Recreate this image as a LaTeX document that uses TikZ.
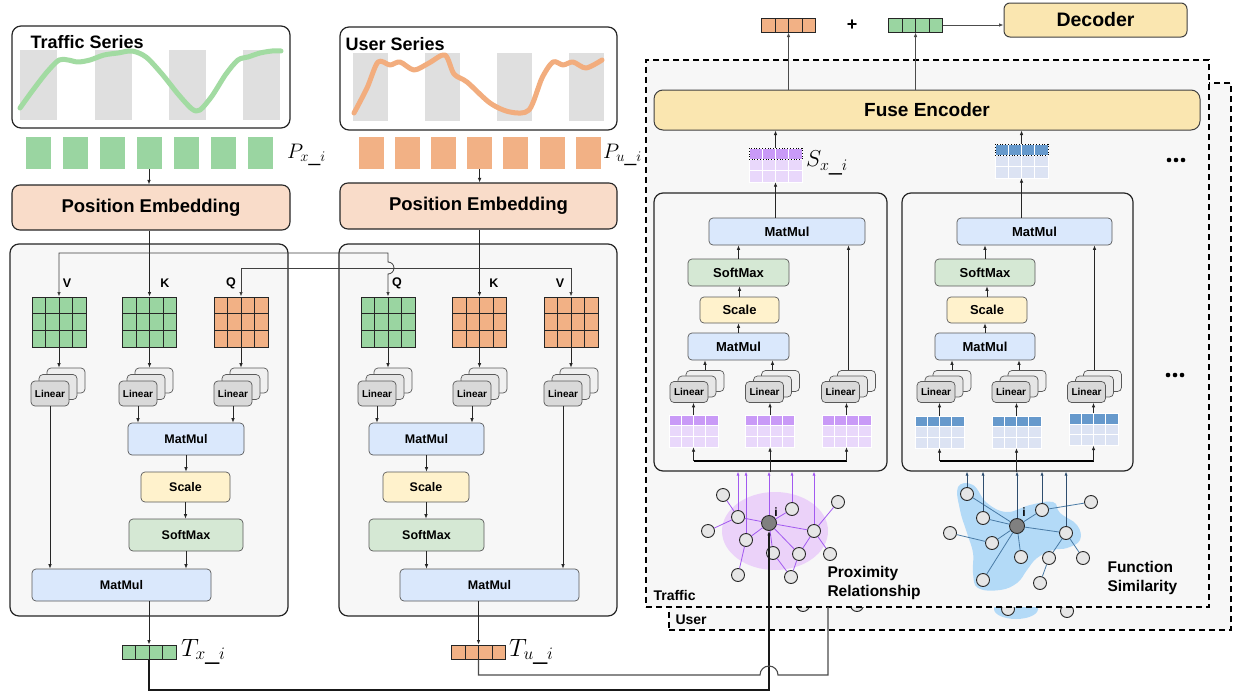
\documentclass[tikz,border=0pt]{standalone}
\usepackage{fix-cm}
\usepackage{fontspec}
\setmainfont{Liberation Sans}
\setsansfont{Liberation Sans}
\usetikzlibrary{arrows.meta,calc}
\definecolor{gfill}{HTML}{9AD5A1}
\definecolor{ofill}{HTML}{F2B185}
\definecolor{gline}{HTML}{A2DBA2}
\definecolor{oline}{HTML}{F2AD7E}
\definecolor{barg}{HTML}{DFDFDF}
\definecolor{pef}{HTML}{F9DCC9}
\definecolor{panelc}{HTML}{F7F7F7}
\definecolor{mmc}{HTML}{DAE8FC}
\definecolor{scc}{HTML}{FFF2CC}
\definecolor{smc}{HTML}{D5E8D4}
\definecolor{linf}{HTML}{D9D9D9}
\definecolor{linm}{HTML}{E6E6E6}
\definecolor{linb}{HTML}{F0F0F0}
\definecolor{fuse}{HTML}{FAE6B0}
\definecolor{pdark}{HTML}{C99AF7}
\definecolor{plight}{HTML}{E9D8FB}
\definecolor{bdark}{HTML}{6699CC}
\definecolor{blight}{HTML}{DCE3F3}
\definecolor{pline}{HTML}{A259F0}
\definecolor{pell}{HTML}{EBD2F9}
\definecolor{bblob}{HTML}{B3DAF7}
\definecolor{bline}{HTML}{4A7BA6}
\definecolor{barrc}{HTML}{2E4D6E}
\definecolor{gnodec}{HTML}{E6E6E6}

\newcommand\qgrid[4]{%
 \node[inner sep=0, minimum width=54, minimum height=50, fill=#4, draw=black!85, line width=1pt] (#1) at (#2,#3) {};
 \begin{scope}[shift={(#2,#3)}]
 \foreach \xx in {-13.5,0,13.5} \draw[line width=.9pt, black!85] (\xx,-25) -- (\xx,25);
 \foreach \yy in {-8.33,8.33} \draw[line width=.9pt, black!85] (-27,\yy) -- (27,\yy);
 \end{scope}}
\newcommand\vbar[4]{%
 \node[draw=black!85, line width=1pt, fill=#4, minimum width=54, minimum height=14, inner sep=0] (#1) at (#2,#3) {};
 \foreach \xx in {-13.5,0,13.5} \draw[line width=.9pt, black!85] ($(#1.center)+(\xx,-7)$) -- ($(#1.center)+(\xx,7)$);}
\newcommand\linst[8]{%
 \node[rb, fill=linb, minimum width=#4, minimum height=#5] (#1b) at ($(#2,#3)+(2*#6,-2*#7)$) {};
 \node[rb, fill=linm, minimum width=#4, minimum height=#5] (#1m) at ($(#2,#3)+(#6,-#7)$) {};
 \node[rb, fill=linf, minimum width=#4, minimum height=#5, fs=#8] (#1) at (#2,#3) {Linear};}
\newcommand\cgrid[8]{%
 \node[inner sep=0, minimum width=#6, minimum height=#7] (#1) at (#2,#3) {};
 \begin{scope}[shift={(#2,#3)}]
 \pgfmathsetmacro\cw{#6/4}\pgfmathsetmacro\ch{#7/3}\pgfmathsetmacro\hx{#6/2}\pgfmathsetmacro\hy{#7/2}
 \foreach \c in {0,...,3}{
   \path[fill=#4,draw=white,line width=1pt] (-\hx+\cw*\c,-\hy) rectangle ++(\cw,\ch);
   \foreach \r in {1,2} \path[fill=#5,draw=white,line width=1pt] (-\hx+\cw*\c,-\hy+\ch*\r) rectangle ++(\cw,\ch);}
 #8
 \end{scope}}

\begin{document}
\begin{tikzpicture}[x=1pt,y=-1pt,
  >={Latex[length=4.5pt,width=3.6pt]},
  fs/.style={font=\bfseries\fontsize{#1}{#1}\selectfont},
  ml/.style={font=\fontsize{#1}{#1}\selectfont, inner sep=0, anchor=west},
  ar/.style={->, line width=0.8pt, draw=black!85},
  ln/.style={line width=0.8pt, draw=black!85},
  rb/.style={rounded corners=4pt, draw=black!65, line width=0.7pt, inner sep=0pt, align=center},
  bxmm/.style={rb, fill=mmc},
  bxsc/.style={rb, fill=scc},
  bxsm/.style={rb, fill=smc},
  panel/.style={rounded corners=9pt, draw=black!85, line width=1.2pt, fill=panelc, inner sep=0},
  sbox/.style={rounded corners=9pt, draw=black!85, line width=1.2pt, fill=white, inner sep=0},
  tok/.style={inner sep=0, minimum width=25, minimum height=32},
  gn/.style={circle, draw=black!85, fill=gnodec, line width=0.9pt, minimum size=13, inner sep=0},
  gc/.style={gn, fill=black!50, minimum size=15},
  dbox/.style={draw=black, line width=1.8pt, dash pattern=on 6pt off 4pt, fill=panelc, inner sep=0},
  pedge/.style={pline, line width=0.8pt},
  bedge/.style={bline, line width=0.8pt},
  parr/.style={->, >={Latex[length=4pt,width=3.2pt]}, draw=pline, line width=0.8pt},
  barr/.style={->, >={Latex[length=4pt,width=3.2pt]}, draw=barrc, line width=0.8pt},
]
\useasboundingbox[fill=white] (0,0) rectangle (1233,696);

% ---------- series ----------
\node[sbox, minimum width=278, minimum height=102] (TS) at (151,77) {};
\foreach \bx in {20,95,169,243} \fill[barg] (\bx,50) rectangle ++(37,70);
\draw[gline, line width=5pt, line cap=round, line join=round] plot[smooth, tension=0.5] coordinates {(20,108) (33,90) (47,72) (59,60) (68,60) (78,62) (90,60) (104,55) (118,53) (132,51) (146,57) (162,74) (178,94) (192,109) (200,110) (212,96) (226,74) (238,60) (248,57) (260,53) (272,51) (281,51)};
\node[fs=18, anchor=west] (tst) at (27,42) {Traffic Series};

\node[sbox, minimum width=277, minimum height=103] (US) at (478.5,78.5) {};
\foreach \bx in {353,425,497,569} \fill[barg] (\bx,53) rectangle ++(35,68);
\draw[oline, line width=5pt, line cap=round, line join=round] plot[smooth, tension=0.5] coordinates {(354,113) (367,88) (378,62) (390,65) (400,62) (414,70) (429,63) (445,55) (454,74) (467,82) (490,103) (510,112) (529,110) (542,78) (553,62) (563,65) (573,62) (586,68) (602,60)};
\node[fs=18, anchor=west] (ust) at (342,44) {User Series};

\foreach \i in {0,...,6} \node[tok, fill=gfill] (px\i) at (38+37*\i,153) {};
\foreach \i in {0,...,6} \node[tok, fill=ofill] (pu\i) at (371+36.2*\i,153) {};
\node[ml=21] (pxl) at (287,155) {$P_{x\_i}$};
\node[ml=21] (pul) at (603,155) {$P_{u\_i}$};

\node[rb, fill=pef, draw=black!85, line width=1.1pt, rounded corners=8pt, minimum width=278, minimum height=45, fs=18.5] (PEx) at (151,207.5) {Position Embedding};
\node[rb, fill=pef, draw=black!85, line width=1.1pt, rounded corners=8pt, minimum width=277, minimum height=46, fs=18.5] (PEu) at (478.5,206) {Position Embedding};
\draw[ar] (px3.south) -- (px3.south |- PEx.north);
\draw[ar] (pu3.south) -- (pu3.south |- PEu.north);

% ---------- attention panels ----------
\node[panel, minimum width=278, minimum height=372] (LP) at (149,430) {};
\node[panel, minimum width=278, minimum height=372] (MP) at (478,430) {};

\qgrid{Vx}{59}{322}{gfill}
\qgrid{Kx}{149.5}{322}{gfill}
\qgrid{Qx}{241}{322}{ofill}
\qgrid{Qm}{388}{322}{gfill}
\qgrid{Km}{479.5}{322}{ofill}
\qgrid{Vm}{571}{322}{ofill}
\node[fs=12.5] at (67,283) {V};
\node[fs=12.5] at (165,283) {K};
\node[fs=12.5] at (231,283) {Q};
\node[fs=12.5] at (397,283) {Q};
\node[fs=12.5] at (494,283) {K};
\node[fs=12.5] at (560,283) {V};

\linst{LVx}{50}{393.5}{38}{25}{8}{6.5}{10}
\linst{LKx}{138}{393.5}{38}{25}{8}{6.5}{10}
\linst{LQx}{233}{393.5}{38}{25}{8}{6.5}{10}
\linst{LQm}{377}{393.5}{38}{25}{8}{6.5}{10}
\linst{LKm}{472}{393.5}{38}{25}{8}{6.5}{10}
\linst{LVm}{563}{393.5}{38}{25}{8}{6.5}{10}

\node[bxmm, minimum width=116, minimum height=32, fs=12.5] (MMx) at (186,439) {MatMul};
\node[bxsc, minimum width=89, minimum height=30, fs=12.5] (SCx) at (185.5,487) {Scale};
\node[bxsm, minimum width=114, minimum height=32, fs=12.5] (SMx) at (186,535) {SoftMax};
\node[bxmm, minimum width=179, minimum height=32, fs=12.5] (MFx) at (121.5,585) {MatMul};
\node[bxmm, minimum width=115, minimum height=32, fs=12.5] (MMm) at (426.5,439) {MatMul};
\node[bxsc, minimum width=86, minimum height=30, fs=12.5] (SCm) at (426,487) {Scale};
\node[bxsm, minimum width=115, minimum height=32, fs=12.5] (SMm) at (426.5,535) {SoftMax};
\node[bxmm, minimum width=179, minimum height=32, fs=12.5] (MFm) at (489.5,585) {MatMul};

\vbar{Tx}{149}{652}{gfill}
\vbar{Tm}{478.5}{652}{ofill}
\node[ml=25] (txl) at (181,652) {$T_{x\_i}$};
\node[ml=25] (tul) at (509,652) {$T_{u\_i}$};

% internal arrows
\foreach \g/\l in {Vx/LVx,Kx/LKx,Qx/LQx,Qm/LQm,Km/LKm,Vm/LVm}
  \draw[ar] (\g.south) -- (\g.south |- \l b.north);
\foreach \l/\m in {LKx/MMx,LQx/MMx,LQm/MMm,LKm/MMm}
  \draw[ar] (\l.south) -- (\l.south |- \m.north);
\draw[ar] (LVx.south) -- (LVx.south |- MFx.north);
\draw[ar] (LVm.south) -- (LVm.south |- MFm.north);
\draw[ar] (MMx.south) -- (MMx.south |- SCx.north);
\draw[ar] (SCx.south) -- (SCx.south |- SMx.north);
\draw[ar] (SMx.south) -- (SMx.south |- MFx.north);
\draw[ar] (MMm.south) -- (MMm.south |- SCm.north);
\draw[ar] (SCm.south) -- (SCm.south |- SMm.north);
\draw[ar] (SMm.south) -- (SMm.south |- MFm.north);
\draw[ar] (Tx.north |- MFx.south) -- (Tx.north);
\draw[ar] (Tm.north |- MFm.south) -- (Tm.north);

% position embedding to K
\draw[ar] (Kx.north |- PEx.south) -- (Kx.north);
\draw[ar] (Km.north |- PEu.south) -- (Km.north);
% cross connections
\coordinate (c1) at (388,253);
\coordinate (c2) at (571,268);
\draw[ln, draw=black!75, <->] (Vx.north) |- (c1) -- (388,262) arc(-90:90:6) -- (Qm.north);
\draw[ln, draw=black!75, <->] (Qx.north) |- (c2) -- (Vm.north);

% ---------- right part ----------
\node[dbox, minimum width=562, minimum height=547] (UB) at (950,356.5) {};
\fill[bblob] (1016,609) ellipse (22 and 10);
\node[gn] (u1) at (803,605) {};
\node[gn] (u2) at (857,605) {};
\node[gn] (u3) at (1008,609) {};
\node[gn] (u4) at (1067,611) {};
\node[dbox, minimum width=563, minimum height=547] (TB) at (927.5,333.5) {};
\node[fs=14, anchor=west] (trl) at (650,595) {Traffic};
\node[fs=14, anchor=west] (usl) at (672,620) {User};

\node[rb, fill=fuse, draw=black!75, line width=1pt, rounded corners=9pt, minimum width=546, minimum height=40, fs=19] (FE) at (927,110) {Fuse Encoder};
\node[rb, fill=fuse, draw=black!75, line width=1pt, rounded corners=6pt, minimum width=183, minimum height=34, fs=19.5] (DEC) at (1095.5,20) {Decoder};
\vbar{OrV}{788.5}{25}{ofill}
\vbar{GrV}{915.5}{25}{gfill}
\node[fs=18] (plus) at (852,25) {+};
\draw[ar, draw=black!70] (OrV.south |- FE.north) -- (OrV.south);
\draw[ar, draw=black!70] (GrV.south |- FE.north) -- (GrV.south);
\draw[ar, draw=black!70] (GrV.east) -- (GrV.east -| DEC.west);

\node[panel, minimum width=233, minimum height=278] (RB1) at (770.5,332) {};
\node[panel, minimum width=231, minimum height=278] (RB2) at (1017.5,332) {};

% stacks above panels
\cgrid{S1}{775.5}{165}{pdark}{plight}{53}{34}{\draw[dotted, line width=0.8pt] (-\hx,-\hy) rectangle ++(53,\ch);}
\cgrid{S2}{1021.5}{161}{bdark}{blight}{53}{34}{\draw[dotted, line width=0.8pt] (-\hx,-\hy) rectangle ++(53,\ch);}
\node[ml=23] (sxl) at (806,163) {$S_{x\_i}$};
\foreach \d in {0,7,14} \fill (1169+\d,160) circle (2.3);
\foreach \d in {0,7,14} \fill (1168+\d,375) circle (2.3);

% panel 1
\node[bxmm, minimum width=156, minimum height=27, fs=13] (MT1) at (787,231.5) {MatMul};
\node[bxsm, minimum width=101, minimum height=27, fs=13] (SM1) at (738.5,272.5) {SoftMax};
\node[bxsc, minimum width=79, minimum height=26, fs=13] (SC1) at (739.5,310) {Scale};
\node[bxmm, minimum width=101, minimum height=27, fs=13] (MM1) at (738.5,346.5) {MatMul};
\linst{L11}{689}{392}{38}{21}{8}{5.5}{10}
\linst{L12}{764.5}{392}{38}{21}{8}{5.5}{10}
\linst{L13}{840.5}{392}{38}{21}{8}{5.5}{10}
\cgrid{G11}{693.5}{431}{pdark}{plight}{49}{32}{}
\cgrid{G12}{770}{431}{pdark}{plight}{49}{32}{}
\cgrid{G13}{846.5}{431}{pdark}{plight}{49}{32}{}

% panel 2
\node[bxmm, minimum width=155, minimum height=27, fs=13] (MT2) at (1034.5,231.5) {MatMul};
\node[bxsm, minimum width=100, minimum height=27, fs=13] (SM2) at (985,272.5) {SoftMax};
\node[bxsc, minimum width=80, minimum height=26, fs=13] (SC2) at (987,310) {Scale};
\node[bxmm, minimum width=100, minimum height=27, fs=13] (MM2) at (985,346.5) {MatMul};
\linst{L21}{936}{392}{38}{21}{8}{5.5}{10}
\linst{L22}{1011}{392}{38}{21}{8}{5.5}{10}
\linst{L23}{1086.5}{392}{38}{21}{8}{5.5}{10}
\cgrid{G21}{939.5}{432}{bdark}{blight}{49}{32}{}
\cgrid{G22}{1016.5}{432}{bdark}{blight}{49}{32}{}
\cgrid{G23}{1093.5}{429.5}{bdark}{blight}{49}{32}{}

% panel arrows
\foreach \p in {1,2}{
  \draw[ar] (G\p1.north) -- (G\p1.north |- L\p1.south);
  \draw[ar] (G\p2.north) -- (G\p2.north |- L\p2.south);
  \draw[ar] (G\p3.north) -- (G\p3.north |- L\p3.south);
  \draw[ar] (L\p1b.north) -- (L\p1b.north |- MM\p.south);
  \draw[ar] (L\p2m.north |- L\p2b.north) -- (L\p2m.north |- MM\p.south);
  \draw[ar] (L\p3m.north |- L\p3b.north) -- (L\p3m.north |- MT\p.south);
  \draw[ar] (MM\p.north) -- (MM\p.north |- SC\p.south);
  \draw[ar] (SC\p.north) -- (SC\p.north |- SM\p.south);
  \draw[ar] (SM\p.north) -- (SM\p.north |- MT\p.south);
  \draw[ar] (S\p.south |- MT\p.north) -- (S\p.south);
  \draw[ar] (S\p.north) -- (S\p.north |- FE.south);
}
\coordinate (bl1) at (693.5,461); \coordinate (br1) at (846.5,461);
\coordinate (bl2) at (939.5,461); \coordinate (br2) at (1093.5,461);
\foreach \p in {1,2}{
  \draw[line width=1.6pt] (bl\p) -- (br\p);
  \draw[ar] (bl\p) -- (G\p1.south);
  \draw[ar] (G\p2.south |- bl\p) -- (G\p2.south);
  \draw[ar] (br\p) -- (G\p3.south);
  \draw[ln] (G\p2.south |- bl\p) -- (G\p2.south |- RB\p.south);
}

% graph 1
\fill[pell] (775,531) ellipse (53 and 39);
\node[gn] (a1) at (723,495) {};
\node[gn] (a2) at (738,517) {};
\node[gn] (a3) at (708,531) {};
\node[gc] (gi) at (769,523) {};
\node[gn] (a4) at (792,509) {};
\node[gn] (a5) at (838,502) {};
\node[gn] (a6) at (746,540) {};
\node[gn] (a7) at (814,531) {};
\node[gn] (a8) at (773,553) {};
\node[gn] (a9) at (799,554) {};
\node[gn] (a10) at (830,554) {};
\node[gn] (a11) at (738,575) {};
\node[gn] (a12) at (791,577) {};
\foreach \u/\v in {a1/a2,a3/a2,a2/gi,a6/gi,a4/gi,gi/a7,gi/a9,gi/a8,a7/a5,a7/a9,a7/a10,a6/a11,a8/a12,a9/a12}
  \draw[pedge] (\u) -- (\v);
\foreach \u in {a2,a6,gi,a4,a7}
  \draw[parr] (\u.north) -- (\u.north |- RB1.south);
\node[fs=12] (il1) at (776,512) {i};
\node[fs=15.5, anchor=west, align=left] (prl) at (824,583) {Proximity\\[3pt]Relationship};

% graph 2
\fill[bblob] plot[smooth cycle, tension=0.7] coordinates {(958,487) (973,485) (987,503) (1007,512) (1030,505) (1053,502) (1060,513) (1077,525) (1080,540) (1067,548) (1053,550) (1037,558) (1027,570) (1017,583) (1000,590) (978,588) (973,573) (973,553) (967,533) (960,510)};
\node[gn] (b1) at (967,494) {};
\node[gn] (b2) at (983,518) {};
\node[gn] (b3) at (950,533) {};
\node[gc] (gj) at (1017,526) {};
\node[gn] (b4) at (1042,510) {};
\node[gn] (b5) at (1091,502) {};
\node[gn] (b6) at (992,543) {};
\node[gn] (b7) at (1066,533) {};
\node[gn] (b8) at (1021,557) {};
\node[gn] (b9) at (1049,558) {};
\node[gn] (b10) at (1083,558) {};
\node[gn] (b11) at (983,580) {};
\node[gn] (b12) at (1040,583) {};
\foreach \u/\v in {b1/gj,b2/gj,b3/b6,b6/gj,gj/b4,b4/b5,gj/b7,gj/b8,gj/b11,b7/b9,b7/b10,b9/b12}
  \draw[bedge] (\u) -- (\v);
\foreach \u in {b1,b2,gj,b4,b7}
  \draw[barr] (\u.north) -- (\u.north |- RB2.south);
\node[fs=12] (il2) at (1024,512) {i};
\node[fs=15.5, anchor=west, align=left] (fsl) at (1104,578) {Function\\[3pt]Similarity};

% bottom connectors
\coordinate (d1) at (769,690);
\draw[->, line width=1.1pt, draw=black!90] (Tx.south) |- (d1) -- (gi.south);
\coordinate (d2) at (760,675);
\coordinate (d3) at (828,607);
\draw[line width=1.1pt, draw=black!70] (Tm.south) |- (d2) arc(180:360:9) -| (d3);
\end{tikzpicture}
\end{document}
